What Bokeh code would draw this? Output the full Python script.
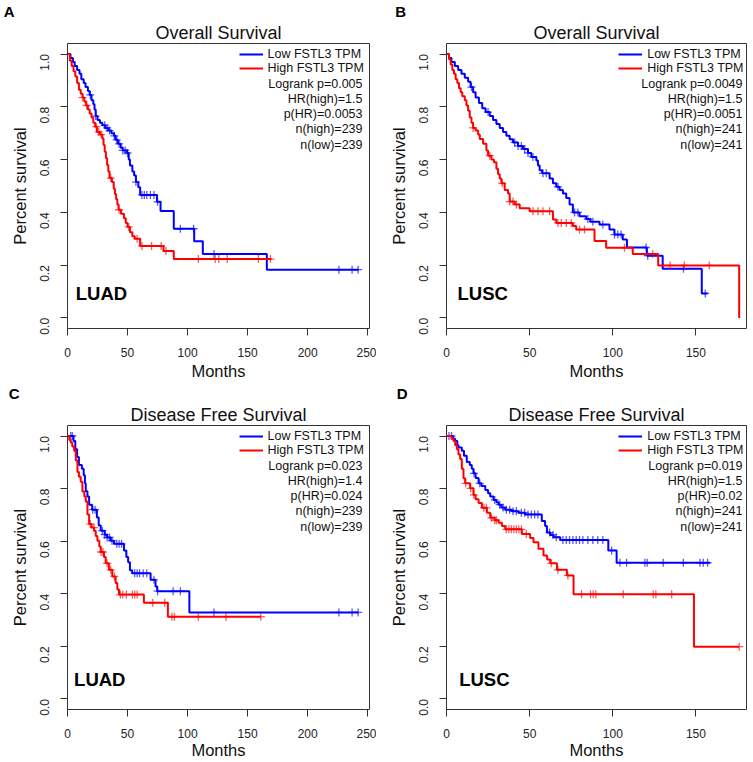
import math
import numpy as np
from bokeh.plotting import figure
from bokeh.models import Range1d, FixedTicker, Label, Legend, LegendItem, Title
from bokeh.layouts import gridplot
from bokeh.embed import file_html
from bokeh.resources import INLINE

FONT = "Liberation Sans"
BLUE = "#0000FF"
RED = "#FF0000"

# ---------------- tick / label data ----------------
y_ticks = [0.0, 0.2, 0.4, 0.6, 0.8, 1.0]
y_tick_labels = ["0.0", "0.2", "0.4", "0.6", "0.8", "1.0"]
x_ticks_luad = [0, 50, 100, 150, 200, 250]
x_ticks_lusc = [0, 50, 100, 150]
legend_labels = ["Low FSTL3 TPM", "High FSTL3 TPM"]
titles = ["Overall Survival", "Overall Survival", "Disease Free Survival", "Disease Free Survival"]
letters = ["A", "B", "C", "D"]
cancers = ["LUAD", "LUSC", "LUAD", "LUSC"]

stats_A = ["Logrank p=0.005", "HR(high)=1.5", "p(HR)=0.0053", "n(high)=239", "n(low)=239"]
stats_B = ["Logrank p=0.0049", "HR(high)=1.5", "p(HR)=0.0051", "n(high)=241", "n(low)=241"]
stats_C = ["Logrank p=0.023", "HR(high)=1.4", "p(HR)=0.024", "n(high)=239", "n(low)=239"]
stats_D = ["Logrank p=0.019", "HR(high)=1.5", "p(HR)=0.02", "n(high)=241", "n(low)=241"]

# ---------------- A: LUAD overall survival ----------------
A_low_t = [0, 2.5, 4.5, 6, 8, 10, 11.5, 13.5, 15, 17, 18.5, 20, 21.5, 22.5, 23.5, 25, 27, 29, 31.5, 34,
           36.5, 38.7, 40, 42, 44.3, 46, 49.5, 51, 52, 54, 55.5, 57, 59, 60.5, 74.5, 77.5, 88.5, 105.5,
           112.7, 166]
A_low_s = [1.0, 0.985, 0.97, 0.955, 0.94, 0.925, 0.905, 0.89, 0.875, 0.86, 0.845, 0.825, 0.81, 0.79, 0.765,
           0.75, 0.74, 0.73, 0.72, 0.71, 0.70, 0.69, 0.675, 0.66, 0.645, 0.635, 0.625, 0.60, 0.578, 0.555,
           0.54, 0.515, 0.495, 0.466, 0.44, 0.405, 0.338, 0.291, 0.242, 0.183]
A_low_end = 242.5
A_low_cens = [19, 23.5, 31, 33, 35, 39, 41, 43, 46, 48, 50, 57, 62, 64, 66, 69, 72, 75, 94, 105, 122,
              226, 237, 242]
A_high_t = [0, 2, 3.5, 5, 6.5, 8, 9.5, 11, 12.5, 14, 15.5, 17, 18.5, 20, 21.5, 23, 24.5, 27, 29, 30, 31,
            32, 33, 34, 35, 37, 38.5, 39.5, 40.5, 41.5, 42.5, 44.5, 47, 48.5, 50, 52, 54, 56, 60.5, 80, 88.5]
A_high_s = [1.0, 0.975, 0.955, 0.935, 0.915, 0.89, 0.865, 0.85, 0.835, 0.82, 0.805, 0.79, 0.775, 0.76, 0.74,
            0.725, 0.705, 0.695, 0.68, 0.655, 0.63, 0.605, 0.58, 0.555, 0.53, 0.515, 0.49, 0.47, 0.45, 0.43,
            0.41, 0.395, 0.378, 0.36, 0.345, 0.325, 0.31, 0.30, 0.273, 0.254, 0.223]
A_high_end = 170
A_high_cens = [12.5, 16, 24, 26, 28, 36, 43, 51, 58, 62, 70, 78, 82, 109, 123, 126, 133, 159, 169]

# ---------------- B: LUSC overall survival ----------------
B_low_t = [0, 1.5, 3, 5, 7, 9, 11, 13, 14.5, 16, 17.5, 19.5, 21.5, 23.5, 26, 28, 30, 32, 34, 36, 38, 40,
           43, 46, 49, 51, 54, 55, 56, 57.5, 62, 64, 66, 68, 70, 72, 74, 76, 80, 84, 86.5, 92, 98, 101, 106,
           108.5, 120.5, 130, 153.5]
B_low_s = [1.0, 0.985, 0.97, 0.955, 0.94, 0.925, 0.91, 0.895, 0.875, 0.855, 0.835, 0.815, 0.795, 0.78, 0.765,
           0.75, 0.735, 0.72, 0.705, 0.69, 0.677, 0.665, 0.652, 0.64, 0.625, 0.61, 0.597, 0.578, 0.56, 0.548,
           0.528, 0.51, 0.497, 0.485, 0.472, 0.455, 0.43, 0.40, 0.385, 0.375, 0.365, 0.354, 0.335, 0.316,
           0.297, 0.267, 0.236, 0.186, 0.093]
B_low_end = 157
B_low_cens = [15, 25, 41, 43, 45, 47, 49, 52, 58, 60, 67, 77, 79, 85, 88, 94, 101, 103, 105, 120, 121,
              142.5, 155.6]
B_high_t = [0, 1.5, 2.5, 3.5, 4.5, 5.5, 6.5, 7.5, 8.5, 9.5, 11, 12, 13, 14, 15, 16, 17.5, 19, 20, 22, 24,
            25, 27, 28.5, 30, 31, 32, 33, 35, 37, 38, 41, 44, 50, 64, 66, 76, 78, 89, 96, 112, 127.3, 176]
B_high_s = [1.0, 0.98, 0.96, 0.94, 0.925, 0.905, 0.89, 0.87, 0.855, 0.84, 0.825, 0.805, 0.785, 0.76, 0.74,
            0.72, 0.71, 0.695, 0.678, 0.66, 0.635, 0.615, 0.60, 0.59, 0.565, 0.545, 0.528, 0.51, 0.485, 0.472,
            0.441, 0.43, 0.416, 0.404, 0.373, 0.36, 0.348, 0.335, 0.292, 0.266, 0.242, 0.199, 0.0]
B_high_end = 176
B_high_cens = [16, 26, 33.5, 38, 40, 42, 52, 55, 58, 62, 67, 69, 72, 75, 80, 83, 107, 124, 134.5, 143, 158]

# ---------------- C: LUAD disease free survival ----------------
C_low_t = [0, 5, 6.5, 8, 9.5, 12, 13.5, 14.5, 15.2, 16.6, 18, 20.5, 24.5, 26, 27.7, 31, 33, 36, 38.7, 47,
           49, 50.5, 52, 53.9, 69.2, 73.3, 74.7, 101.5]
C_low_s = [1.0, 0.981, 0.95, 0.92, 0.89, 0.876, 0.851, 0.82, 0.79, 0.77, 0.739, 0.72, 0.69, 0.66, 0.64, 0.625,
           0.614, 0.602, 0.59, 0.565, 0.54, 0.52, 0.49, 0.478, 0.453, 0.428, 0.41, 0.329]
C_low_end = 242.5
C_low_cens = [2.7, 4, 21, 23, 29, 31, 33, 35, 37, 41, 43, 45, 56, 58, 60, 63, 66, 72, 75, 88, 94, 122,
              226, 237, 242]
C_high_t = [0, 1.5, 2.7, 4, 5.5, 6.9, 8.3, 9.5, 11, 12.4, 14, 15.2, 16.6, 18, 20, 22.1, 23.5, 24.9, 26.5,
            27.7, 30.4, 31.8, 34.5, 37.3, 40.1, 41.5, 42.9, 63.6, 83.6]
C_high_s = [1.0, 0.985, 0.975, 0.96, 0.944, 0.907, 0.863, 0.845, 0.826, 0.789, 0.77, 0.751, 0.702, 0.665, 0.652,
            0.64, 0.62, 0.602, 0.58, 0.559, 0.54, 0.516, 0.491, 0.466, 0.441, 0.416, 0.397, 0.366, 0.313]
C_high_end = 161
C_high_cens = [19, 22, 28, 29.5, 33, 36, 39, 44, 46, 49, 54, 56, 58, 71, 81, 87, 89, 109, 132, 161]

# ---------------- D: LUSC disease free survival ----------------
D_low_t = [0, 4, 5.2, 6.5, 7.2, 9.2, 10.5, 12.2, 14, 15.2, 16.2, 17.5, 19.3, 21, 23.3, 25, 26.3, 28.3, 30,
           31.3, 33, 35.3, 39.3, 43.3, 47.3, 57.3, 59.3, 60.4, 62.5, 64.4, 68.4, 97.3, 102.3]
D_low_s = [1.0, 0.99, 0.981, 0.965, 0.956, 0.944, 0.925, 0.901, 0.89, 0.876, 0.858, 0.84, 0.82, 0.81, 0.795,
           0.782, 0.77, 0.757, 0.748, 0.739, 0.728, 0.72, 0.714, 0.708, 0.702, 0.677, 0.658, 0.633, 0.624,
           0.615, 0.605, 0.565, 0.518]
D_low_end = 158.5
D_low_cens = [1.5, 3, 16.5, 20, 29, 32, 34, 36, 38, 40, 42, 45, 47, 49, 51, 53, 55, 62, 64, 66, 70, 72, 74,
              76, 78, 80, 82, 85, 88, 91, 94, 99.3, 104.3, 108.3, 119.3, 120.7, 130.3, 142.4, 152.4, 154.4, 157]
D_high_t = [0, 3, 4.2, 5.2, 6.2, 7.2, 8.2, 9.2, 10.2, 11.2, 14.2, 16.2, 17.5, 19.3, 21.3, 24.3, 26.3, 29,
            31.3, 33.3, 35.3, 45.3, 50.3, 52.3, 55.3, 58.3, 60.5, 62.4, 66.4, 72.4, 76.4, 148.8]
D_high_s = [1.0, 0.99, 0.981, 0.965, 0.95, 0.93, 0.913, 0.876, 0.839, 0.82, 0.801, 0.776, 0.76, 0.745, 0.727,
            0.708, 0.689, 0.68, 0.67, 0.658, 0.645, 0.627, 0.612, 0.596, 0.571, 0.546, 0.53, 0.516, 0.491,
            0.47, 0.398, 0.199]
D_high_end = 176
D_high_cens = [11.5, 14.5, 16.5, 22.5, 24, 27, 29, 30, 36, 37.5, 39, 40.5, 42, 43.5, 45, 48, 63, 67, 73,
               81.2, 86.6, 88.2, 89.8, 106.3, 124.3, 125.9, 135.4, 176]


def step_at(times, surv, t):
    idx = np.searchsorted(np.asarray(times, float), np.asarray(t, float), side="right") - 1
    return list(np.asarray(surv, float)[idx])


LEG_W = 135.5   # estimated legend box width (px)


def panel(idx, lo, hi, stats, x_end, x_ticks, geo, lay):
    w, h, bl, br, bt, bb, xstd, xlab_std = geo
    fw = w - bl - br
    fh = h - bt - bb
    y0, y1 = -0.04, 1.04
    pxx = fw / x_end
    pxy = fh / (y1 - y0)
    stat_right, leg_right, letter_dx, cancer_dx, cancer_dy = lay

    p = figure(width=w, height=h, min_border_left=bl, min_border_right=br,
               min_border_top=bt, min_border_bottom=bb,
               x_range=Range1d(0, x_end), y_range=Range1d(y0, y1),
               output_backend="svg", toolbar_location=None, title=None)
    # main title (closest to the frame), then the panel letter above it
    p.add_layout(Title(text=titles[idx], align="center", text_font=FONT, text_font_size="18px",
                       text_font_style="normal", text_color="#111111", standoff=2), "above")
    p.add_layout(Title(text=letters[idx], align="left", offset=letter_dx, text_font=FONT,
                       text_font_size="15px", text_font_style="bold", text_color="#000000",
                       standoff=0), "above")

    p.xgrid.visible = False
    p.ygrid.visible = False
    p.outline_line_color = "#333333"
    p.outline_line_width = 1
    p.background_fill_color = "white"
    p.border_fill_color = "white"

    for ax in (p.xaxis[0], p.yaxis[0]):
        ax.axis_line_color = None
        ax.major_tick_line_color = "#333333"
        ax.major_tick_out = 7
        ax.major_tick_in = 0
        ax.minor_tick_line_color = None
        ax.major_label_text_font = FONT
        ax.major_label_text_font_size = "12px"
        ax.major_label_text_color = "#222222"
        ax.axis_label_text_font = FONT
        ax.axis_label_text_font_size = "16.5px"
        ax.axis_label_text_font_style = "normal"
        ax.axis_label_text_color = "#111111"

    p.xaxis.ticker = FixedTicker(ticks=x_ticks)
    p.xaxis.major_label_standoff = xstd
    p.xaxis.axis_label = "Months"
    p.xaxis.axis_label_standoff = xlab_std
    p.yaxis.ticker = FixedTicker(ticks=y_ticks)
    p.yaxis.major_label_overrides = {v: s for v, s in zip(y_ticks, y_tick_labels)}
    p.yaxis.major_label_orientation = math.pi / 2
    p.yaxis.major_label_standoff = 16
    p.yaxis.axis_label = "Percent survival"
    p.yaxis.axis_label_standoff = 4

    renderers = []
    for (t, s, end, cens), col in ((lo, BLUE), (hi, RED)):
        xs = list(t) + [end]
        ys = list(s) + [s[-1]]
        r = p.step(xs, ys, mode="after", line_color=col, line_width=2)
        renderers.append(r)
        p.scatter(cens, step_at(t, s, cens), marker="cross", size=8, line_color=col,
                  line_width=1.3, line_alpha=0.65)

    legend = Legend(items=[LegendItem(label=legend_labels[0], renderers=[renderers[0]]),
                           LegendItem(label=legend_labels[1], renderers=[renderers[1]])],
                    location=(fw - LEG_W - leg_right + 5, fh - 34.8),
                    margin=0, padding=5, spacing=0,
                    label_standoff=5, glyph_width=24, glyph_height=12, label_height=12,
                    label_text_font=FONT, label_text_font_size="12.5px", label_text_color="#111111",
                    border_line_color=None, background_fill_alpha=0)
    p.add_layout(legend)

    for i, txt in enumerate(stats):
        p.add_layout(Label(x=x_end - stat_right / pxx, y=y1 - (41 + 15.3 * i) / pxy, text=txt,
                           text_align="right", text_baseline="middle", text_font=FONT,
                           text_font_size="12.5px", text_color="#111111"))
    p.add_layout(Label(x=cancer_dx / pxx, y=y0 + cancer_dy / pxy, text=cancers[idx],
                       text_align="left", text_baseline="middle", text_font=FONT,
                       text_font_size="18.5px", text_font_style="bold", text_color="#000000"))
    return p


# geometry: width, height, border L, R, T, B, tick-label standoff, axis-label standoff
geoA = (376, 382, 67, 7, 40, 54, 12, 2)
geoB = (377, 382, 70, 7, 40, 54, 12, 2)
geoC = (376, 379, 67, 7, 40, 52, 12, 0)
geoD = (377, 379, 70, 7, 40, 52, 12, 0)

# layout offsets: stats right, legend right, letter dx, cancer dx, cancer dy
pA = panel(0, (A_low_t, A_low_s, A_low_end, A_low_cens), (A_high_t, A_high_s, A_high_end, A_high_cens),
           stats_A, 251.5, x_ticks_luad, geoA, (7, 0, -63.7, 8.3, 35.5))
pB = panel(1, (B_low_t, B_low_s, B_low_end, B_low_cens), (B_high_t, B_high_s, B_high_end, B_high_cens),
           stats_B, 180.4, x_ticks_lusc, geoB, (4, -2.7, -51.3, 11, 35.5))
pC = panel(2, (C_low_t, C_low_s, C_low_end, C_low_cens), (C_high_t, C_high_s, C_high_end, C_high_cens),
           stats_C, 251.5, x_ticks_luad, geoC, (7, 0, -58.7, 6.6, 30))
pD = panel(3, (D_low_t, D_low_s, D_low_end, D_low_cens), (D_high_t, D_high_s, D_high_end, D_high_cens),
           stats_D, 180.4, x_ticks_lusc, geoD, (4, -2.7, -49.7, 12.7, 30))

grid = gridplot([[pA, pB], [pC, pD]], toolbar_location=None)
open("out.html", "w").write(file_html(grid, INLINE))
